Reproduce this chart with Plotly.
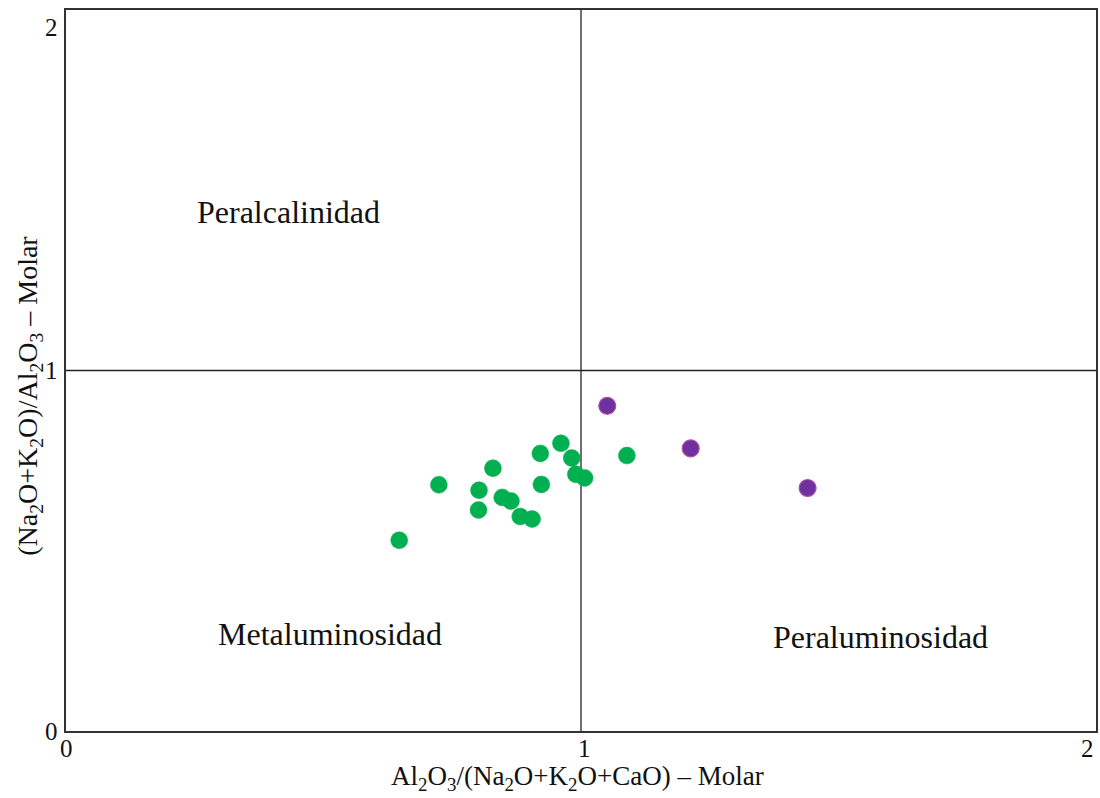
import plotly.graph_objects as go

green_x = [0.647, 0.724, 0.802, 0.801, 0.829, 0.847, 0.864, 0.882, 0.905, 0.921, 0.923, 0.961, 0.982, 0.990, 1.007, 1.089]
green_y = [0.529, 0.683, 0.668, 0.613, 0.729, 0.648, 0.638, 0.595, 0.588, 0.770, 0.684, 0.798, 0.757, 0.712, 0.702, 0.764]
purple_x = [1.051, 1.213, 1.440]
purple_y = [0.902, 0.784, 0.674]

region_labels = ["Peralcalinidad", "Metaluminosidad", "Peraluminosidad"]
region_x = [0.432, 0.513, 1.582]
region_y = [1.441, 0.269, 0.261]

tick_vals = [0, 1, 2]
tick_text = ["0", "1", "2"]

x_title = "Al<sub>2</sub>O<sub>3</sub>/(Na<sub>2</sub>O+K<sub>2</sub>O+CaO) – Molar"
y_title = "(Na<sub>2</sub>O+K<sub>2</sub>O)/Al<sub>2</sub>O<sub>3</sub> – Molar"

FONT = "Liberation Serif"

fig = go.Figure()

# dividing lines
fig.add_trace(go.Scatter(x=[1, 1], y=[0, 2], mode="lines", line=dict(color="#222", width=1.3),
                         hoverinfo="skip", showlegend=False))
fig.add_trace(go.Scatter(x=[0, 2], y=[1, 1], mode="lines", line=dict(color="#222", width=1.3),
                         hoverinfo="skip", showlegend=False))

fig.add_trace(go.Scatter(x=green_x, y=green_y, mode="markers",
                         marker=dict(size=17, color="#00B050", line=dict(color="#10b058", width=0.5)),
                         showlegend=False))
fig.add_trace(go.Scatter(x=purple_x, y=purple_y, mode="markers",
                         marker=dict(size=17, color="#7030A0", line=dict(color="#b0509a", width=1.2)),
                         showlegend=False))

for t, x, y in zip(region_labels, region_x, region_y):
    fig.add_annotation(x=x, y=y, text=t, showarrow=False,
                       font=dict(family=FONT, size=32, color="#111"))

# tick labels (placed as in the reference: end labels tucked inside the frame)
for v, t in zip(tick_vals, tick_text):
    xa = "right" if v == tick_vals[-1] else "center"
    fig.add_annotation(x=v, y=0, xref="x", yref="paper", text=t, showarrow=False,
                       xanchor=xa, yanchor="top", yshift=-2, xshift=3 if v == 1 else 0,
                       font=dict(family=FONT, size=25, color="#111"))
    ya = "top" if v == tick_vals[-1] else "middle"
    fig.add_annotation(x=0, y=v, xref="paper", yref="y", text=t, showarrow=False,
                       xanchor="right", yanchor=ya, xshift=-6, yshift=-2 if v == tick_vals[-1] else 0,
                       font=dict(family=FONT, size=25, color="#111"))

# axis titles
fig.add_annotation(x=0.5, y=0, xref="paper", yref="paper", text=x_title, showarrow=False,
                   xanchor="center", yanchor="middle", xshift=-4, yshift=-47,
                   font=dict(family=FONT, size=27, color="#111"))
fig.add_annotation(x=0, y=0.93, xref="paper", yref="y", text=y_title, showarrow=False,
                   textangle=-90, xanchor="center", yanchor="middle", xshift=-36,
                   font=dict(family=FONT, size=28, color="#111"))

fig.update_layout(
    width=1100, height=798,
    margin=dict(l=66, r=2, t=10, b=67),
    paper_bgcolor="white", plot_bgcolor="white",
    font=dict(family=FONT, color="#111"),
    xaxis=dict(range=[0, 2], tickvals=tick_vals, showticklabels=False, showgrid=False, zeroline=False,
               showline=True, linecolor="#333", linewidth=2, mirror=True, ticks=""),
    yaxis=dict(range=[0, 2], tickvals=tick_vals, showticklabels=False, showgrid=False, zeroline=False,
               showline=True, linecolor="#333", linewidth=2, mirror=True, ticks=""),
)

fig.write_html("out.html")
